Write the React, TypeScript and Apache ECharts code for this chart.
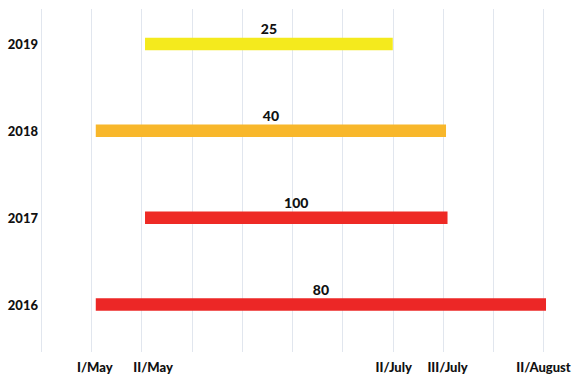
import React, { useEffect, useRef } from "react";
import * as echarts from "echarts";

// Season periods per year (x in dekad units, 0..10 grid)
const years = ["2016", "2017", "2018", "2019"];
const startValues = [1.09, 2.07, 1.09, 2.07];
const endValues = [10.05, 8.09, 8.06, 7.0];
const counts = [80, 100, 40, 25];
const barColors = ["#ec2726", "#ee2a25", "#f8b72b", "#f4ea1d"];

// Dekad labels shown under the axis
const dekadPositions = [1.07, 2.23, 7.02, 8.09, 10.0];
const dekadLabels = ["I/May", "II/May", "II/July", "III/July", "II/August"];

const FONT = "Lato, 'Open Sans', 'Liberation Sans', sans-serif";

export default function App() {
  const ref = useRef<HTMLDivElement>(null);

  useEffect(() => {
    if (!ref.current) return;
    const chart = echarts.init(ref.current, null, { renderer: "svg" });

    const barSeries = years.map((y, i) => ({
      type: "line",
      name: y,
      clip: false,
      symbol: "none",
      silent: true,
      lineStyle: { width: 12.5, color: barColors[i], cap: "butt" },
      data: [
        [startValues[i], i + 1],
        [endValues[i], i + 1],
      ],
    }));

    const labelSeries = {
      type: "scatter",
      symbolSize: 0,
      silent: true,
      clip: false,
      itemStyle: { opacity: 1 },
      data: years.map((_, i) => [
        (startValues[i] + endValues[i]) / 2,
        i + 1,
        counts[i],
      ]),
      label: {
        show: true,
        position: "top",
        distance: 8,
        formatter: (p: any) => String(p.value[2]),
        color: "#111111",
        opacity: 1,
        fontFamily: FONT,
        fontWeight: 900,
        fontSize: 14,
      },
    };

    chart.setOption({
      animation: false,
      backgroundColor: "#ffffff",
      grid: { left: 41, right: 37.5, top: 9, bottom: 22, containLabel: false },
      xAxis: {
        type: "value",
        min: 0,
        max: 10,
        interval: 1,
        axisLine: { show: false },
        axisTick: { show: false },
        splitLine: { show: true, lineStyle: { color: "#e1e6ee", width: 1 } },
        axisLabel: {
          customValues: dekadPositions,
          showMaxLabel: true,
          hideOverlap: false,
          margin: 8,
          color: "#111111",
          fontFamily: FONT,
          fontWeight: 900,
          fontSize: 13,
          formatter: (v: number) => {
            const idx = dekadPositions.findIndex((p) => Math.abs(p - v) < 1e-6);
            return idx >= 0 ? dekadLabels[idx] : "";
          },
        },
      },
      yAxis: {
        type: "value",
        min: 0.453,
        max: 4.403,
        axisLine: { show: false },
        axisTick: { show: false },
        splitLine: { show: false },
        axisLabel: {
          customValues: [1, 2, 3, 4],
          margin: 3,
          color: "#111111",
          fontFamily: FONT,
          fontWeight: 900,
          fontSize: 13,
          formatter: (v: number) => {
            const idx = Math.round(v) - 1;
            return years[idx] ?? "";
          },
        },
      },
      series: [...barSeries, labelSeries],
    });

    return () => chart.dispose();
  }, []);

  return (
    <div
      ref={ref}
      style={{ position: "absolute", left: 0, top: 0, width: 581, height: 374 }}
    />
  );
}
